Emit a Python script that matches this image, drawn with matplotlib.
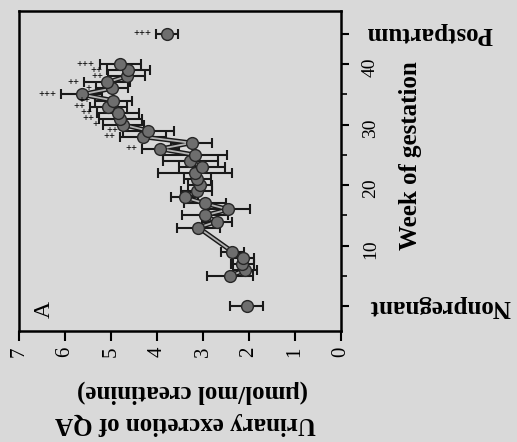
import matplotlib
matplotlib.use("Agg")
import matplotlib.pyplot as plt
import matplotlib.transforms as mtransforms

plt.rcParams['font.family'] = ['Liberation Serif', 'DejaVu Serif']

# ---- data ----
weeks = [5, 6, 7, 8, 9, 13, 14, 15, 16, 17, 18, 19, 20, 21, 22, 23, 24, 25,
         26, 27, 28, 29, 30, 31, 32, 33, 34, 35, 36, 37, 38, 39, 40]
qa = [2.41, 2.08, 2.15, 2.12, 2.36, 3.10, 2.70, 2.96, 2.45, 2.96, 3.40, 3.14,
      3.07, 3.12, 3.17, 3.03, 3.28, 3.17, 3.93, 3.25, 4.30, 4.19, 4.73, 4.80,
      4.85, 5.06, 4.95, 5.64, 4.98, 5.09, 4.66, 4.62, 4.80]
qa_err = [0.50, 0.26, 0.25, 0.22, 0.25, 0.47, 0.32, 0.50, 0.47, 0.45, 0.30,
          0.33, 0.26, 0.30, 0.80, 0.50, 0.60, 0.69, 0.40, 0.45, 0.50, 0.55,
          0.45, 0.47, 0.45, 0.40, 0.40, 0.45, 0.35, 0.50, 0.40, 0.47, 0.45]
signif = ['', '', '', '', '', '', '', '', '', '', '', '', '', '', '', '', '', '',
          '++', '', '++', '++', '+', '++', '++', '++', '++', '+++', '+', '++',
          '++', '++', '+++']

nonpreg_week = 0
nonpreg_qa = 2.05
nonpreg_err = 0.36

postpartum_week = 45
postpartum_qa = 3.79
postpartum_err = 0.24
postpartum_signif = '+++'

value_ticks = [0, 1, 2, 3, 4, 5, 6, 7]
week_ticks = [0, 10, 20, 30, 40, 45]
week_tick_labels = ['', '10', '20', '30', '40', '']
week_minor_ticks = [5, 15, 25, 35]

bg = '#d9d9d9'
fig = plt.figure(figsize=(5.17, 4.42), dpi=100, facecolor=bg)
ax = fig.add_axes([19/517, 1-331/442, 322/517, 320/442], facecolor=bg)

eb = dict(fmt='none', ecolor='#1a1a1a', elinewidth=1.5, capsize=3.6,
          capthick=1.5, zorder=2)
ax.errorbar(qa, weeks, xerr=qa_err, **eb)
ax.errorbar([nonpreg_qa], [nonpreg_week], xerr=[nonpreg_err], **eb)
ax.errorbar([postpartum_qa], [postpartum_week], xerr=[postpartum_err], **eb)

# connecting double line
ax.plot(qa, weeks, color='#1a1a1a', lw=3.4, zorder=3)
ax.plot(qa, weeks, color='#b4b4b4', lw=1.3, zorder=3.1)

mk = dict(marker='o', ms=8.5, mfc='#6e6e6e', mec='#262626', mew=1.0,
          ls='none', zorder=4)
ax.plot(qa, weeks, **mk)
ax.plot([nonpreg_qa], [nonpreg_week], **mk)
ax.plot([postpartum_qa], [postpartum_week], **mk)

# significance marks
for w, v, e, s in zip(weeks, qa, qa_err, signif):
    if s:
        ax.text(v + e + 0.1, w, s, ha='right', va='center', fontsize=7.5,
                fontweight='bold', zorder=5)
ax.text(postpartum_qa + postpartum_err + 0.1, postpartum_week, postpartum_signif,
        ha='right', va='center', fontsize=7.5, fontweight='bold', zorder=5)

# axes setup
ax.set_xlim(7, 0)
ax.set_ylim(-4.1, 48.8)
for sp in ax.spines.values():
    sp.set_linewidth(1.8)

ax.set_xticks(value_ticks)
ax.set_xticklabels([str(v) for v in value_ticks])
ax.tick_params(axis='x', direction='out', length=7, width=1.5,
               labelsize=15, pad=4, labelrotation=90)

ax.yaxis.tick_right()
ax.set_yticks(week_ticks)
ax.set_yticklabels(week_tick_labels)
ax.set_yticks(week_minor_ticks, minor=True)
ax.tick_params(axis='y', which='major', direction='out', length=6, width=1.5,
               labelsize=14, pad=9, labelrotation=90)
ax.tick_params(axis='y', which='minor', direction='out', length=4, width=1.2)

trans = mtransforms.blended_transform_factory(ax.transAxes, ax.transData)
ax.text(1.307, nonpreg_week, 'Nonpregnant', transform=trans, rotation=180,
        ha='center', va='center', fontsize=18, fontweight='bold', clip_on=False)
ax.text(1.276, postpartum_week, 'Postpartum', transform=trans, rotation=180,
        ha='center', va='center', fontsize=18, fontweight='bold', clip_on=False)

fig.text(410/517, 1-156/442, 'Week of gestation', rotation=90,
         ha='center', va='center', fontsize=18, fontweight='bold')
fig.text(192/517, 1-392/442, '(μmol/mol creatinine)', rotation=180,
         ha='center', va='center', fontsize=18, fontweight='bold')
fig.text(186/517, 1-424/442, 'Urinary excretion of QA', rotation=180,
         ha='center', va='center', fontsize=18, fontweight='bold')
fig.text(44/517, 1-310/442, 'A', rotation=90, ha='center', va='center',
         fontsize=17)

fig.savefig('out.png', dpi=100, facecolor=bg)
